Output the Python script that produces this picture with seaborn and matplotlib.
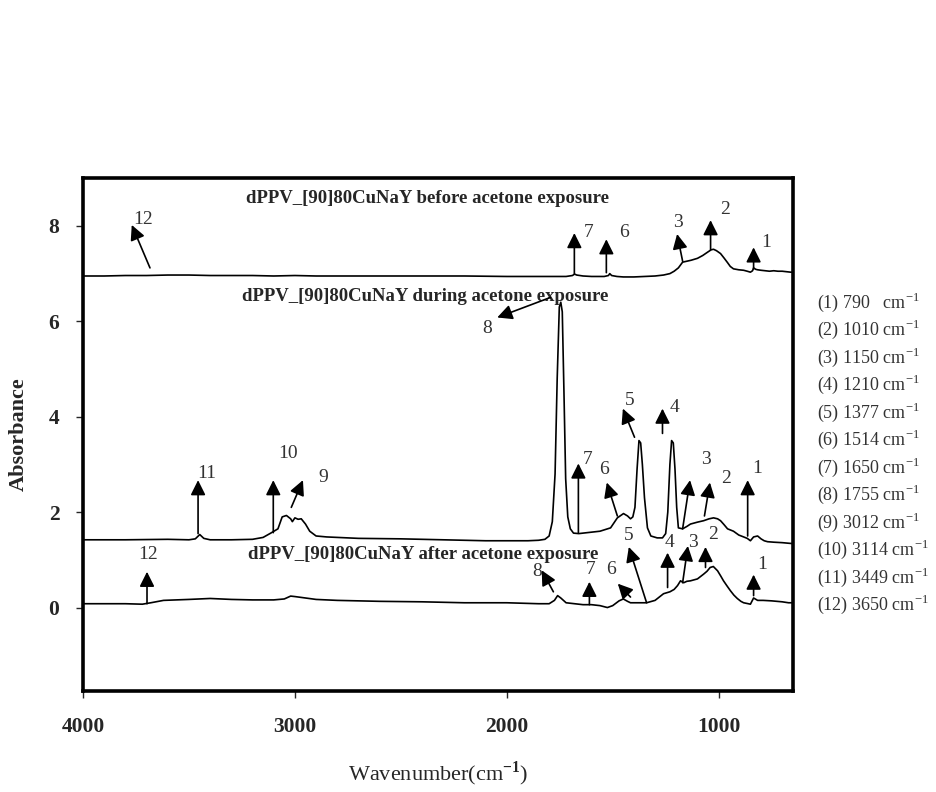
import pandas as pd
import numpy as np
import matplotlib
matplotlib.use('Agg')
import matplotlib.pyplot as plt
import seaborn as sns

# spectra (wavenumber cm-1, absorbance)
wn_before = [4000, 3900, 3800, 3700, 3600, 3500, 3400, 3300, 3200, 3100, 3000, 2900, 2800, 2600,
             2400, 2200, 2000, 1900, 1800, 1720, 1690, 1680, 1670, 1640, 1600, 1540, 1520, 1514,
             1505, 1480, 1450, 1400, 1350, 1300, 1260, 1230, 1210, 1190, 1170, 1150, 1130, 1100,
             1075, 1052, 1035, 1024, 1010, 991, 975, 958, 945, 930, 905, 882, 865, 850, 840, 835,
             825, 816, 800, 780, 760, 740, 720, 700, 680, 660, 650]
abs_before = [6.95, 6.95, 6.96, 6.96, 6.97, 6.97, 6.96, 6.96, 6.96, 6.95, 6.96, 6.95, 6.95, 6.95,
              6.95, 6.95, 6.94, 6.94, 6.94, 6.94, 6.96, 6.99, 6.97, 6.95, 6.94, 6.94, 6.96, 7.0,
              6.96, 6.94, 6.93, 6.93, 6.94, 6.95, 6.97, 7.0, 7.05, 7.12, 7.24, 7.26, 7.28, 7.32,
              7.38, 7.45, 7.5, 7.51, 7.48, 7.42, 7.33, 7.23, 7.15, 7.1, 7.08, 7.07, 7.05, 7.03,
              7.06, 7.12, 7.09, 7.08, 7.07, 7.06, 7.05, 7.06, 7.05, 7.05, 7.04, 7.03, 7.03]

wn_during = [4000, 3800, 3600, 3500, 3470, 3449, 3430, 3400, 3300, 3200, 3150, 3114, 3080, 3060,
             3040, 3020, 3012, 3000, 2985, 2970, 2950, 2930, 2900, 2850, 2700, 2500, 2300, 2100,
             2000, 1900, 1850, 1820, 1800, 1785, 1772, 1762, 1752, 1745, 1738, 1730, 1722, 1712,
             1700, 1685, 1660, 1620, 1560, 1510, 1478, 1449, 1430, 1416, 1405, 1395, 1385, 1376,
             1368, 1360, 1350, 1336, 1320, 1290, 1265, 1250, 1240, 1230, 1222, 1214, 1206, 1198,
             1190, 1170, 1150, 1133, 1100, 1071, 1045, 1024, 1005, 991, 975, 958, 930, 905, 882,
             865, 850, 835, 816, 800, 785, 769, 740, 700, 650]
abs_during = [1.42, 1.42, 1.43, 1.42, 1.44, 1.53, 1.45, 1.42, 1.42, 1.43, 1.47, 1.56, 1.65, 1.9,
              1.93, 1.86, 1.8, 1.88, 1.85, 1.86, 1.75, 1.6, 1.5, 1.48, 1.45, 1.44, 1.42, 1.4,
              1.4, 1.4, 1.41, 1.43, 1.5, 1.8, 2.8, 4.8, 6.3, 6.4, 6.2, 4.5, 2.7, 1.9,
              1.65, 1.56, 1.55, 1.57, 1.6, 1.67, 1.88, 1.97, 1.92, 1.86, 1.9, 2.1, 2.9, 3.5,
              3.45, 3.0, 2.3, 1.67, 1.5, 1.46, 1.46, 1.55, 2.0, 3.0, 3.5, 3.45, 2.9, 2.1,
              1.67, 1.65, 1.7, 1.75, 1.79, 1.82, 1.86, 1.88, 1.86, 1.82, 1.74, 1.65, 1.6, 1.52, 1.48,
              1.45, 1.4, 1.48, 1.5, 1.44, 1.4, 1.38, 1.37, 1.36, 1.34]

wn_after = [4000, 3900, 3800, 3720, 3680, 3620, 3500, 3400, 3300, 3200, 3100, 3050, 3020, 3000,
            2950, 2900, 2800, 2600, 2400, 2200, 2000, 1850, 1800, 1775, 1760, 1745, 1720, 1680,
            1640, 1600, 1560, 1525, 1500, 1470, 1450, 1430, 1416, 1380, 1340, 1300, 1260, 1230,
            1210, 1194, 1180, 1165, 1150, 1133, 1100, 1071, 1055, 1040, 1025, 1005, 990, 977,
            960, 944, 928, 912, 895, 882, 860, 850, 835, 816, 790, 750, 700, 670, 650]
abs_after = [0.08, 0.08, 0.08, 0.07, 0.1, 0.15, 0.17, 0.19, 0.17, 0.16, 0.16, 0.18, 0.24, 0.23,
             0.2, 0.17, 0.15, 0.13, 0.12, 0.1, 0.1, 0.08, 0.08, 0.15, 0.25, 0.2, 0.1, 0.08,
             0.06, 0.06, 0.04, 0.0, 0.04, 0.14, 0.18, 0.13, 0.1, 0.1, 0.1, 0.15, 0.29, 0.33,
             0.38, 0.46, 0.56, 0.52, 0.55, 0.56, 0.6, 0.7, 0.76, 0.84, 0.86, 0.77, 0.66, 0.56,
             0.45, 0.35, 0.26, 0.19, 0.13, 0.1, 0.08, 0.07, 0.2, 0.15, 0.15, 0.14, 0.12, 0.1, 0.1]

curve_titles = ['dPPV_[90]80CuNaY before acetone exposure',
                'dPPV_[90]80CuNaY during acetone exposure',
                'dPPV_[90]80CuNaY after acetone exposure']
title_pos = [(2375, 8.58), (2385, 6.52), (2395, 1.12)]

# peak assignments listed at the right
peak_ids = ['(1)', '(2)', '(3)', '(4)', '(5)', '(6)', '(7)', '(8)', '(9)', '(10)', '(11)', '(12)']
peak_wn = ['790  ', '1010', '1150', '1210', '1377', '1514', '1650', '1755', '3012', '3114', '3449', '3650']

# arrows: (label, tail wn, tail abs, head wn, head abs, text wn, text abs)
arrows = [
    # before
    ('12', 3684, 7.12, 3770, 8.02, 3717, 8.14),
    ('7', 1681, 7.0, 1681, 7.85, 1615, 7.87),
    ('6', 1530, 7.02, 1530, 7.72, 1449, 7.87),
    ('3', 1170, 7.26, 1196, 7.83, 1190, 8.08),
    ('2', 1038, 7.5, 1038, 8.12, 972, 8.35),
    ('1', 835, 7.1, 835, 7.55, 774, 7.66),
    # during
    ('8', 1794, 6.5, 2045, 6.08, 2092, 5.85),
    ('11', 3457, 1.55, 3457, 2.67, 3414, 2.8),
    ('10', 3102, 1.57, 3102, 2.67, 3032, 3.22),
    ('9', 3017, 2.1, 2962, 2.67, 2866, 2.72),
    ('7', 1662, 1.57, 1662, 3.02, 1619, 3.1),
    ('6', 1478, 1.92, 1528, 2.62, 1539, 2.9),
    ('5', 1397, 3.57, 1452, 4.17, 1421, 4.35),
    ('4', 1265, 3.65, 1265, 4.17, 1208, 4.2),
    ('3', 1170, 1.65, 1135, 2.67, 1062, 3.1),
    ('2', 1067, 1.92, 1041, 2.62, 963, 2.7),
    ('1', 863, 1.5, 863, 2.67, 816, 2.92),
    # after
    ('12', 3698, 0.08, 3698, 0.75, 3693, 1.12),
    ('8', 1780, 0.33, 1835, 0.78, 1856, 0.76),
    ('7', 1610, 0.06, 1610, 0.54, 1605, 0.8),
    ('6', 1416, 0.22, 1476, 0.5, 1506, 0.8),
    ('5', 1340, 0.1, 1424, 1.27, 1426, 1.5),
    ('4', 1241, 0.42, 1241, 1.15, 1232, 1.37),
    ('3', 1170, 0.52, 1145, 1.29, 1123, 1.37),
    ('2', 1062, 0.84, 1062, 1.27, 1024, 1.53),
    ('1', 835, 0.25, 835, 0.69, 793, 0.91),
]

df = pd.concat([
    pd.DataFrame({'wn': wn_before, 'A': abs_before, 'state': 'before'}),
    pd.DataFrame({'wn': wn_during, 'A': abs_during, 'state': 'during'}),
    pd.DataFrame({'wn': wn_after, 'A': abs_after, 'state': 'after'}),
])

sns.set_style('white')
plt.rcParams['font.family'] = ['Liberation Serif', 'DejaVu Serif']
plt.rcParams['mathtext.fontset'] = 'custom'
plt.rcParams['mathtext.rm'] = 'Liberation Serif'
plt.rcParams['mathtext.bf'] = 'Liberation Serif:bold'

fig = plt.figure(figsize=(9.36, 7.92), dpi=100)
ax = fig.add_axes([0.0887, 0.1275, 0.7583, 0.6475])

sns.lineplot(data=df, x='wn', y='A', hue='state', palette=['black', 'black', 'black'],
             estimator=None, sort=False, legend=False, lw=1.2, ax=ax)

ax.set_xlim(4000, 650)
ax.set_ylim(-1.75, 9)
ax.set_xticks([4000, 3000, 2000, 1000])
ax.set_yticks([0, 2, 4, 6, 8])
ax.tick_params(axis='both', direction='out', length=5, width=1, labelsize=15.5, pad=6,
               bottom=True, left=True)
for lab in ax.get_xticklabels() + ax.get_yticklabels():
    lab.set_fontweight('bold')
ax.xaxis.set_tick_params(pad=14)
ax.yaxis.set_tick_params(pad=12)
for sp in ax.spines.values():
    sp.set_linewidth(2.6)
    sp.set_color('black')

ax.set_xlabel(r'Wavenumber(cm$^{\mathbf{-1}}$)', fontsize=16, labelpad=16)
ax.set_ylabel('Absorbance', fontsize=16, fontweight='bold', labelpad=14)

for t, (x, y) in zip(curve_titles, title_pos):
    ax.text(x, y, t, ha='center', va='center', fontsize=13.5, fontweight='bold')

for lab, tx, ty, hx, hy, lx, ly in arrows:
    ax.annotate('', xy=(hx, hy), xytext=(tx, ty),
                arrowprops=dict(arrowstyle='-|>,head_length=0.9,head_width=0.45',
                                color='black', lw=1.2, shrinkA=0, shrinkB=0))
    ax.text(lx, ly, lab, ha='center', va='center', fontsize=14, color='#333333')

for i, (pid, w) in enumerate(zip(peak_ids, peak_wn)):
    fig.text(0.873, 1 - (302 + i * 27.5) / 792, pid + ' ' + w + r' cm$^{-1}$',
             ha='left', va='center', fontsize=13, color='#333333')

plt.savefig('out.png', dpi=100)
